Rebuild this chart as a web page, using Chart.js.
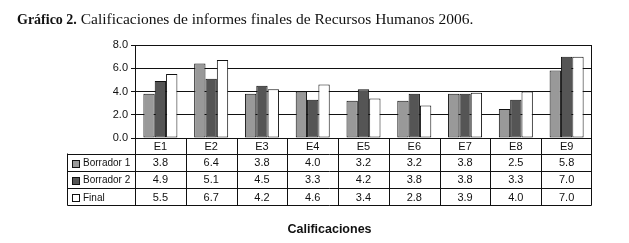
<!DOCTYPE html>
<html>
<head>
<meta charset="utf-8">
<script src="https://cdn.jsdelivr.net/npm/chart.js@4"></script>
<style>
  html, body { margin: 0; padding: 0; background: #fff; }
  #chart { display: block; }
</style>
</head>
<body>
<canvas id="chart" width="629" height="243"></canvas>
<script>
'use strict';

// data
var categories = ['E1', 'E2', 'E3', 'E4', 'E5', 'E6', 'E7', 'E8', 'E9'];
var seriesNames = ['Borrador 1', 'Borrador 2', 'Final'];
var borrador1 = [3.8, 6.4, 3.8, 4.0, 3.2, 3.2, 3.8, 2.5, 5.8];
var borrador2 = [4.9, 5.1, 4.5, 3.3, 4.2, 3.8, 3.8, 3.3, 7.0];
var finalScores = [5.5, 6.7, 4.2, 4.6, 3.4, 2.8, 3.9, 4.0, 7.0];
var yTicks = [0, 2, 4, 6, 8];

var seriesColors = ['#999999', '#555555', '#ffffff'];
var tickFont = 'Liberation Sans';

// title, data table and axis title drawn around the chart area
var tablePlugin = {
  id: 'dataTable',
  beforeDraw: function(chart) {
    var ctx = chart.ctx;
    ctx.save();
    ctx.fillStyle = '#fff';
    ctx.fillRect(0, 0, chart.width, chart.height);
    ctx.restore();
  },
  afterDraw: function(chart) {
    var ctx = chart.ctx;
    var area = chart.chartArea;
    var x = chart.scales.x;
    var rows = [borrador1, borrador2, finalScores];
    var half = (area.right - area.left) / categories.length / 2;
    var legendLeft = 67.5;
    var headerBottom = 153.5;
    var rowH = 17.3;
    var tableBottom = headerBottom + rowH * rows.length;
    var i, j, cx, y;

    ctx.save();
    ctx.strokeStyle = '#111';
    ctx.lineWidth = 1;
    ctx.beginPath();
    // right border
    ctx.moveTo(Math.round(area.right) - 0.5, area.top);
    ctx.lineTo(Math.round(area.right) - 0.5, tableBottom);
    // column separators
    for (i = 0; i < categories.length; i++) {
      var bx = Math.round(x.getPixelForValue(i) - half) + 0.5;
      ctx.moveTo(bx, area.bottom);
      ctx.lineTo(bx, tableBottom);
    }
    // row lines
    for (j = 0; j <= rows.length; j++) {
      y = Math.round(headerBottom + rowH * j) + 0.5;
      ctx.moveTo(legendLeft, y);
      ctx.lineTo(Math.round(area.right) - 0.5, y);
    }
    ctx.moveTo(legendLeft, headerBottom);
    ctx.lineTo(legendLeft, Math.round(tableBottom) + 0.5);
    ctx.stroke();

    ctx.font = '11px "' + tickFont + '"';
    ctx.fillStyle = '#111';
    ctx.textBaseline = 'middle';
    ctx.textAlign = 'center';
    for (i = 0; i < categories.length; i++) {
      cx = x.getPixelForValue(i);
      ctx.fillText(categories[i], cx, (area.bottom + headerBottom) / 2 + 1);
      for (j = 0; j < rows.length; j++) {
        ctx.fillText(rows[j][i].toFixed(1), cx, headerBottom + rowH * (j + 0.5) + 1);
      }
    }
    ctx.textAlign = 'left';
    ctx.font = '10px "' + tickFont + '"';
    for (j = 0; j < rows.length; j++) {
      y = Math.round(headerBottom + rowH * j + 6) + 0.5;
      ctx.fillStyle = seriesColors[j];
      ctx.fillRect(72.5, y, 7, 7);
      ctx.strokeRect(72.5, y, 7, 7);
      ctx.fillStyle = '#111';
      ctx.fillText(seriesNames[j], 83, headerBottom + rowH * (j + 0.5) + 1);
    }

    // chart title
    ctx.textBaseline = 'alphabetic';
    ctx.font = 'bold 14px "Liberation Serif"';
    ctx.fillText('Gráfico 2.', 17, 24);
    var w = ctx.measureText('Gráfico 2.').width;
    ctx.font = '15.5px "Liberation Serif"';
    ctx.fillText(' Calificaciones de informes finales de Recursos Humanos 2006.', 17 + w, 24);

    // axis title
    ctx.textAlign = 'center';
    ctx.font = 'bold 12.5px "Liberation Sans"';
    ctx.fillText('Calificaciones', 329.5, 233);
    ctx.restore();
  }
};

new Chart(document.getElementById('chart'), {
  type: 'bar',
  data: {
    labels: categories,
    datasets: [
      { label: seriesNames[0], data: borrador1, backgroundColor: seriesColors[0] },
      { label: seriesNames[1], data: borrador2, backgroundColor: seriesColors[1] },
      { label: seriesNames[2], data: finalScores, backgroundColor: seriesColors[2] }
    ]
  },
  options: {
    responsive: false,
    animation: false,
    devicePixelRatio: 1,
    layout: { padding: { left: 0, top: 45, right: 37, bottom: 105 } },
    datasets: {
      bar: {
        borderColor: '#111',
        borderWidth: 1,
        borderSkipped: false,
        categoryPercentage: 0.67,
        barPercentage: 1.0
      }
    },
    plugins: {
      legend: { display: false },
      tooltip: { enabled: false }
    },
    scales: {
      x: { display: false },
      y: {
        min: 0, max: 8,
        afterFit: function(s) { s.width = 135; },
        afterBuildTicks: function(s) { s.ticks = yTicks.map(function(v) { return { value: v }; }); },
        grid: { color: '#111', lineWidth: 1, tickLength: 4 },
        border: { display: true, color: '#111', width: 1 },
        ticks: {
          color: '#111',
          padding: 3,
          font: { family: tickFont, size: 11 },
          callback: function(v) { return Number(v).toFixed(1); }
        }
      }
    }
  },
  plugins: [tablePlugin]
});
</script>
</body>
</html>
